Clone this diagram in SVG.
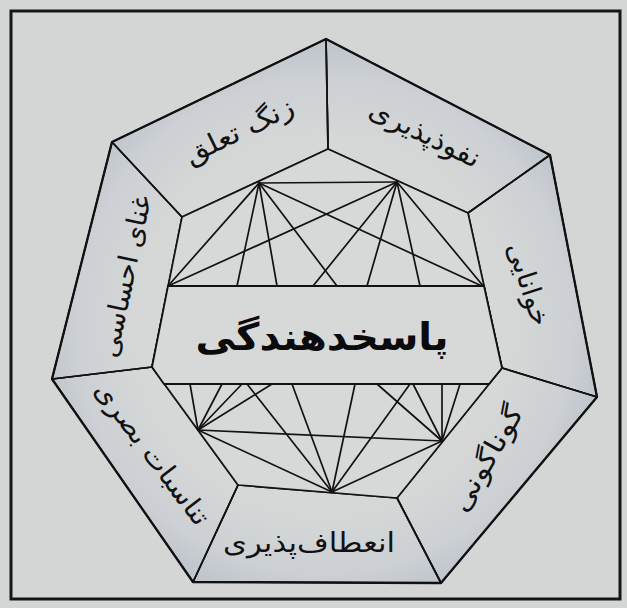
<svg xmlns="http://www.w3.org/2000/svg" width="627" height="608" viewBox="0 0 627 608">
<defs>
<radialGradient id="band" gradientUnits="userSpaceOnUse" cx="324" cy="325" r="290">
<stop offset="0" stop-color="#d7d9d8"/>
<stop offset="0.64" stop-color="#d6d8d7"/>
<stop offset="0.86" stop-color="#ccd0d4"/>
<stop offset="1" stop-color="#bcc1cb"/>
</radialGradient>
<style>
.seg{fill:url(#band);stroke:#151515;stroke-width:1.7;stroke-linejoin:round}
.edge{fill:none;stroke:#111;stroke-width:2.3;stroke-linejoin:round}
.ln{stroke:#121212;stroke-width:1.7;stroke-linecap:round}
.lbl{font-family:"DejaVu Sans",sans-serif;font-size:27px;fill:#111;text-anchor:middle}
.ttl{font-family:"DejaVu Sans",sans-serif;font-size:38px;font-weight:bold;fill:#0b0b0b;text-anchor:middle}
</style>
</defs>
<rect x="0" y="0" width="627" height="608" fill="#d4d6d5"/>
<rect x="11" y="11" width="609" height="588" fill="#d4d6d5" stroke="#161616" stroke-width="3"/>

<g id="seg-nofoozpaziri">
<polygon class="seg" points="326,39 550,155 468,213 328,149"/>
<text class="lbl" transform="translate(421,142) rotate(26)" textLength="120" lengthAdjust="spacingAndGlyphs">نفوذپذیری</text>
</g>
<g id="seg-khanayi">
<polygon class="seg" points="550,155 597,397 502,368 468,213"/>
<text class="lbl" transform="translate(520,287) rotate(72)" textLength="86" lengthAdjust="spacingAndGlyphs">خوانایی</text>
</g>
<g id="seg-gunagun">
<polygon class="seg" points="597,397 441,583 397,498 502,368"/>
<text class="lbl" transform="translate(495,463) rotate(-60)" textLength="118" lengthAdjust="spacingAndGlyphs">گوناگونی</text>
</g>
<g id="seg-enetaf">
<polygon class="seg" points="441,583 193,582 238,485 397,498"/>
<text class="lbl" transform="translate(309,552)" textLength="172" lengthAdjust="spacingAndGlyphs">انعطاف‌پذیری</text>
</g>
<g id="seg-tanasob">
<polygon class="seg" points="193,582 52,379 152,367 238,485"/>
<text class="lbl" transform="translate(145,459) rotate(53)" textLength="172" lengthAdjust="spacingAndGlyphs">تناسبات بصری</text>
</g>
<g id="seg-ghana">
<polygon class="seg" points="52,379 112,142 182,217 152,367"/>
<text class="lbl" transform="translate(134,278) rotate(-78)" textLength="165" lengthAdjust="spacingAndGlyphs">غنای احساسی</text>
</g>
<g id="seg-zang">
<polygon class="seg" points="112,142 326,39 328,149 182,217"/>
<text class="lbl" transform="translate(243,139) rotate(-26)" textLength="118" lengthAdjust="spacingAndGlyphs">زنگ تعلق</text>
</g>
<polygon class="edge" points="326,39 550,155 597,397 441,583 193,582 52,379 112,142"/>

<g id="inner">
<polygon points="328,149 468,213 502,368 397,498 238,485 152,367 182,217" fill="#d7d9d8" stroke="#151515" stroke-width="1.7" stroke-linejoin="round"/>
</g>

<g id="connectors">
<line class="ln" x1="259" y1="183" x2="397" y2="182"/>
<line class="ln" x1="259" y1="183" x2="168" y2="286"/>
<line class="ln" x1="259" y1="183" x2="484" y2="287"/>
<line class="ln" x1="397" y1="182" x2="168" y2="286"/>
<line class="ln" x1="397" y1="182" x2="484" y2="287"/>
<line class="ln" x1="259" y1="183" x2="237" y2="286"/>
<line class="ln" x1="259" y1="183" x2="277" y2="286"/>
<line class="ln" x1="259" y1="183" x2="337" y2="286"/>
<line class="ln" x1="397" y1="182" x2="313" y2="286"/>
<line class="ln" x1="397" y1="182" x2="367" y2="286"/>
<line class="ln" x1="397" y1="182" x2="420" y2="286"/>
<line class="ln" x1="198" y1="430" x2="442" y2="441"/>
<line class="ln" x1="198" y1="430" x2="332" y2="492"/>
<line class="ln" x1="332" y1="492" x2="442" y2="441"/>
<line class="ln" x1="198" y1="430" x2="190" y2="384"/>
<line class="ln" x1="198" y1="430" x2="222" y2="384"/>
<line class="ln" x1="198" y1="430" x2="242" y2="384"/>
<line class="ln" x1="198" y1="430" x2="272" y2="384"/>
<line class="ln" x1="332" y1="492" x2="247" y2="384"/>
<line class="ln" x1="332" y1="492" x2="292" y2="384"/>
<line class="ln" x1="332" y1="492" x2="355" y2="384"/>
<line class="ln" x1="332" y1="492" x2="410" y2="384"/>
<line class="ln" x1="442" y1="441" x2="377" y2="384"/>
<line class="ln" x1="442" y1="441" x2="413" y2="384"/>
<line class="ln" x1="442" y1="441" x2="442" y2="384"/>
<line class="ln" x1="442" y1="441" x2="460" y2="384"/>
<line class="ln" x1="328" y1="149" x2="326" y2="39"/>
<line class="ln" x1="468" y1="213" x2="550" y2="155"/>
<line class="ln" x1="502" y1="368" x2="597" y2="397"/>
<line class="ln" x1="397" y1="498" x2="441" y2="583"/>
<line class="ln" x1="238" y1="485" x2="193" y2="582"/>
<line class="ln" x1="152" y1="367" x2="52" y2="379"/>
<line class="ln" x1="182" y1="217" x2="112" y2="142"/>
</g>

<g id="center">
<polygon points="168,286 484,286 502,368 489,384 164,384 152,367" fill="#d7d9d8" stroke="#121212" stroke-width="1.8" stroke-linejoin="round"/>
<text class="ttl" x="322" y="350" textLength="253" lengthAdjust="spacingAndGlyphs">پاسخدهندگی</text>
</g>
</svg>
